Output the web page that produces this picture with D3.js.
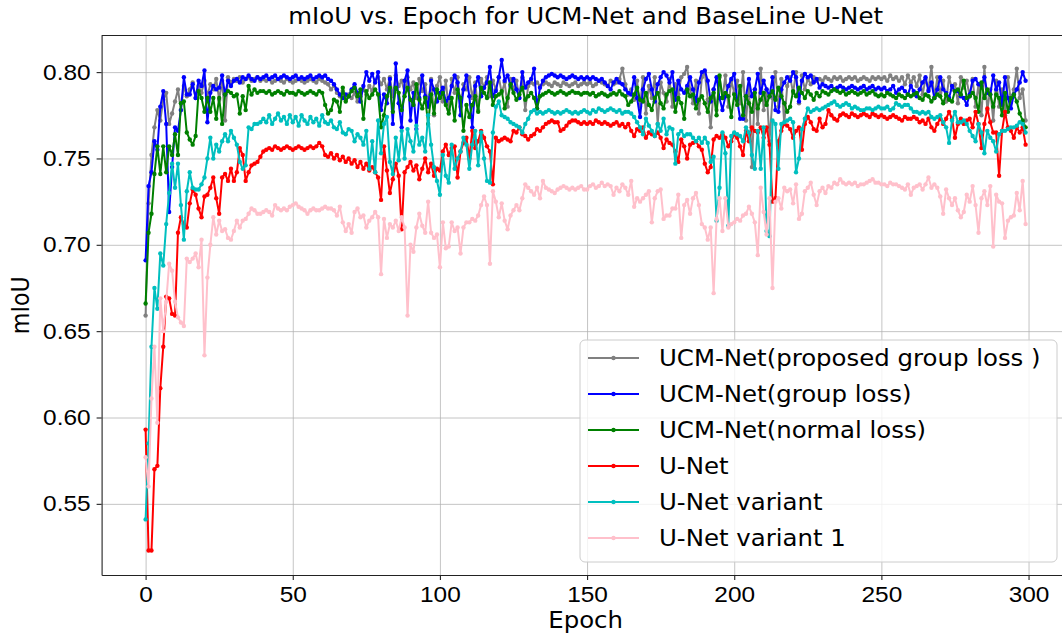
<!DOCTYPE html>
<html>
<head>
<meta charset="utf-8">
<script src="https://cdn.jsdelivr.net/npm/d3@7"></script>
<style>
  body { margin: 0; background: #fff; }
  svg { font-family: "DejaVu Sans", sans-serif; }
  .grid line { stroke: #b0b0b0; stroke-opacity: 0.75; stroke-width: 1; }
  .grid path { display: none; }
  .axis path, .axis line { stroke: #222; stroke-width: 1.1; }
  .axis text { font-size: 22.2px; fill: #000; }
  .line { fill: none; stroke-width: 2; stroke-linejoin: round; }
</style>
</head>
<body>
<div id="chart"></div>
<script>
// mIoU per epoch, stored as mIoU x 1000
const grayVals = [
  659, 724, 752, 768, 778, 772, 784, 788, 770, 776,
  783, 790, 778, 792, 786, 790, 794, 785, 792, 788,
  795, 786, 793, 790, 796, 784, 795, 772, 797, 794,
  796, 795, 797, 794, 796, 797, 795, 796, 797, 795,
  796, 795, 796, 794, 795, 796, 795, 794, 796, 795,
  794, 795, 796, 795, 794, 795, 796, 795, 794, 796,
  795, 794, 793, 790, 792, 788, 786, 789, 784, 787,
  785, 788, 783, 786, 790, 787, 792, 789, 795, 797,
  793, 796, 790, 797, 786, 798, 792, 795, 788, 797,
  790, 794, 785, 796, 789, 793, 780, 796, 775, 792,
  797, 783, 795, 778, 796, 788, 797, 780, 793, 790,
  797, 785, 794, 778, 796, 791, 797, 786, 795, 790,
  797, 788, 794, 780, 796, 790, 795, 785, 797, 778,
  792, 794, 793, 794, 792, 793, 794, 793, 792, 794,
  793, 792, 794, 793, 792, 793, 794, 792, 793, 794,
  793, 794, 792, 793, 795, 794, 793, 792, 795, 793,
  794, 796, 802, 793, 787, 790, 784, 795, 780, 797,
  776, 792, 785, 797, 770, 794, 788, 783, 796, 780,
  793, 787, 797, 799, 803, 790, 782, 795, 776, 797,
  800, 784, 768, 790, 778, 797, 785, 798, 780, 795,
  788, 795, 782, 800, 772, 792, 745, 790, 770, 802,
  778, 790, 760, 785, 800, 780, 796, 770, 792, 797,
  788, 800, 782, 798, 790, 796, 793, 797, 795, 796,
  795, 797, 796, 795, 797, 796, 797, 795, 796, 797,
  796, 797, 795, 796, 797, 796, 795, 797, 796, 797,
  796, 797, 795, 798, 796, 797, 795, 797, 793, 798,
  794, 797, 792, 798, 787, 796, 790, 803, 785, 797,
  788, 795, 783, 797, 790, 793, 782, 797, 791, 795,
  786, 796, 780, 793, 775, 803, 778, 790, 772, 795,
  780, 790, 775, 797, 783, 790, 802, 785, 790, 772
];
const blueVals = [
  691, 734, 742, 760, 755, 780, 789, 770, 719, 745,
  768, 766, 778, 797, 787, 787, 793, 785, 795, 792,
  801, 771, 788, 792, 790, 791, 798, 787, 795, 792,
  795, 796, 794, 797, 796, 798, 796, 795, 797, 796,
  797, 798, 796, 797, 798, 796, 797, 798, 797, 796,
  797, 798, 796, 797, 796, 797, 798, 796, 797, 798,
  797, 798, 796, 795, 793, 790, 787, 785, 787, 786,
  790, 793, 788, 783, 792, 800, 795, 799, 794, 800,
  778, 787, 782, 796, 770, 805, 782, 768, 795, 801,
  772, 788, 767, 785, 798, 786, 780, 795, 790, 783,
  788, 791, 783, 785, 792, 798, 794, 775, 790, 798,
  786, 768, 792, 797, 786, 791, 794, 803, 786, 789,
  797, 807, 795, 798, 792, 796, 790, 785, 800, 791,
  794, 796, 802, 779, 791, 795, 797, 798, 799, 798,
  797, 798, 797, 796, 797, 798, 797, 796, 797, 796,
  797, 796, 797, 796, 795, 796, 794, 792, 790, 794,
  796, 794, 793, 790, 788, 787, 797, 785, 774, 790,
  796, 799, 790, 783, 793, 797, 800, 798, 794, 800,
  784, 795, 790, 788, 792, 797, 790, 783, 794, 800,
  801, 795, 783, 790, 797, 785, 778, 786, 792, 796,
  799, 784, 773, 773, 786, 796, 786, 790, 799, 788,
  795, 790, 786, 797, 778, 777, 790, 794, 797, 795,
  800, 797, 783, 795, 799, 797, 798, 794, 796, 791,
  793, 792, 791, 792, 790, 791, 792, 791, 790, 791,
  792, 791, 790, 791, 792, 790, 791, 792, 790, 791,
  790, 791, 789, 790, 792, 788, 790, 791, 789, 787,
  792, 789, 786, 790, 794, 797, 789, 794, 785, 790,
  797, 790, 788, 785, 792, 789, 789, 786, 785, 781,
  787, 795, 796, 793, 792, 797, 788, 787, 798, 790,
  794, 781, 797, 785, 779, 787, 790, 794, 800, 795
];
const greenVals = [
  666, 707, 718, 741, 757, 741, 757, 742, 757, 752,
  764, 752, 782, 783, 765, 761, 758, 763, 789, 785,
  777, 785, 777, 785, 773, 785, 770, 787, 789, 788,
  786, 787, 776, 786, 778, 792, 787, 790, 788, 789,
  789, 788, 789, 787, 788, 789, 788, 787, 789, 788,
  788, 787, 789, 788, 787, 788, 789, 788, 787, 789,
  788, 781, 776, 778, 784, 783, 777, 791, 783, 786,
  789, 791, 786, 790, 773, 789, 785, 787, 790, 787,
  768, 775, 786, 791, 777, 791, 788, 778, 786, 791,
  784, 781, 793, 784, 779, 785, 770, 787, 776, 790,
  785, 788, 781, 776, 785, 772, 790, 785, 766, 781,
  774, 781, 786, 777, 791, 788, 785, 794, 781, 786,
  787, 789, 779, 785, 793, 788, 784, 787, 791, 784,
  786, 788, 785, 779, 786, 787, 788, 789, 788, 787,
  788, 789, 788, 787, 788, 789, 788, 788, 787, 788,
  788, 787, 788, 786, 787, 788, 787, 786, 787, 788,
  787, 789, 787, 786, 781, 783, 787, 791, 784, 783,
  788, 781, 778, 785, 788, 782, 779, 787, 789, 790,
  777, 785, 782, 773, 790, 786, 787, 779, 784, 786,
  782, 777, 785, 788, 775, 798, 785, 788, 786, 774,
  787, 781, 792, 775, 786, 782, 777, 788, 779, 784,
  788, 781, 786, 789, 784, 791, 786, 782, 777, 780,
  789, 786, 791, 788, 785, 789, 787, 784, 788, 786,
  789, 788, 787, 789, 790, 789, 788, 789, 787, 788,
  789, 788, 787, 788, 789, 787, 788, 789, 787, 786,
  787, 786, 788, 787, 786, 785, 787, 786, 785, 787,
  786, 787, 788, 785, 784, 787, 786, 783, 785, 787,
  786, 782, 787, 784, 783, 789, 790, 787, 795, 785,
  786, 788, 785, 777, 794, 785, 790, 787, 780, 787,
  785, 775, 788, 777, 785, 787, 783, 776, 772, 768
];
const redVals = [
  593, 523, 523, 570, 572, 617, 641, 670, 669, 660,
  659, 707, 716, 712, 710, 724, 732, 729, 721, 716,
  728, 729, 733, 739, 727, 718, 739, 741, 737, 744,
  737, 742, 756, 752, 737, 742, 746, 747, 748, 751,
  754, 755, 756, 755, 757, 756, 755, 756, 757, 756,
  755, 756, 757, 756, 755, 756, 757, 756, 757, 759,
  757, 752, 751, 753, 750, 752, 749, 751, 748, 750,
  747, 749, 745, 748, 744, 747, 743, 745, 742, 739,
  726, 757, 743, 730, 738, 747, 740, 709, 742, 745,
  748, 743, 746, 738, 744, 750, 742, 747, 740, 744,
  743, 754, 758, 752, 756, 757, 739, 754, 759, 762,
  750, 766, 756, 760, 766, 762, 757, 754, 735, 762,
  760, 761, 762, 761, 760, 766, 765, 768, 764, 763,
  761, 763, 764, 767, 766, 768, 770, 771, 772, 771,
  771, 766, 767, 769, 771, 772, 772, 771, 770, 771,
  770, 771, 770, 772, 771, 770, 771, 770, 769, 770,
  771, 769, 770, 768, 770, 766, 763, 767, 766, 768,
  762, 765, 764, 763, 765, 762, 756, 761, 759, 758,
  754, 748, 761, 757, 750, 758, 759, 760, 757, 755,
  747, 742, 745, 761, 763, 762, 764, 762, 757, 760,
  764, 762, 757, 752, 766, 760, 768, 766, 765, 768,
  762, 768, 758, 725, 727, 760, 766, 770, 769, 767,
  762, 766, 768, 755, 770, 774, 771, 767, 766, 773,
  768, 770, 778, 775, 773, 772, 775, 776, 775, 774,
  776, 775, 774, 775, 776, 775, 774, 776, 775, 774,
  775, 774, 773, 774, 775, 774, 773, 772, 774, 773,
  773, 774, 773, 771, 772, 770, 773, 768, 766, 770,
  773, 770, 773, 777, 773, 762, 770, 773, 770, 772,
  773, 768, 777, 770, 756, 770, 779, 771, 765, 765,
  740, 766, 777, 768, 766, 762, 768, 765, 768, 758
];
const cyanVals = [
  541, 585, 641, 675, 663, 695, 688, 712, 730, 747,
  733, 747, 723, 703, 731, 742, 733, 732, 732, 735,
  739, 750, 762, 750, 758, 754, 760, 764, 760, 766,
  762, 758, 748, 744, 746, 768, 767, 770, 770, 771,
  773, 771, 775, 770, 773, 776, 772, 774, 770, 775,
  771, 774, 769, 775, 772, 770, 774, 771, 773, 769,
  775, 771, 770, 772, 768, 767, 771, 765, 764, 767,
  766, 760, 764, 762, 758, 766, 744, 760, 742, 772,
  753, 770, 774, 748, 741, 762, 749, 766, 750, 767,
  760, 754, 769, 758, 762, 754, 775, 758, 745, 737,
  729, 752, 740, 736, 758, 744, 750, 754, 762, 758,
  744, 758, 766, 746, 765, 750, 737, 736, 765, 780,
  783, 775, 774, 773, 771, 770, 769, 768, 765, 770,
  773, 777, 778, 776, 777, 776, 777, 778, 777, 776,
  777, 776, 777, 778, 777, 776, 777, 776, 777, 778,
  777, 776, 778, 777, 779, 778, 777, 778, 779, 778,
  777, 778, 776, 777, 777, 776, 774, 771, 768, 764,
  773, 769, 766, 763, 770, 766, 773, 764, 768, 767,
  747, 764, 766, 763, 764, 764, 762, 760, 762, 759,
  762, 759, 748, 751, 714, 733, 765, 753, 711, 763,
  765, 764, 763, 760, 768, 765, 752, 744, 766, 744,
  768, 708, 705, 772, 770, 744, 770, 771, 772, 773,
  771, 742, 750, 767, 773, 779, 777, 778, 779, 778,
  779, 780, 781, 782, 783, 781, 780, 781, 782, 781,
  779, 780, 779, 778, 778, 779, 779, 778, 779, 780,
  779, 779, 780, 778, 779, 782, 781, 780, 781, 781,
  779, 777, 777, 776, 777, 776, 777, 774, 773, 774,
  775, 771, 768, 759, 772, 777, 771, 771, 772, 770,
  766, 763, 760, 770, 765, 753, 766, 762, 760, 754,
  764, 766, 766, 767, 768, 768, 769, 771, 770, 765
];
const pinkVals = [
  577, 560, 611, 641, 597, 669, 650, 667, 689, 685,
  667, 658, 655, 653, 692, 690, 692, 695, 687, 703,
  636, 681, 700, 716, 706, 714, 708, 709, 704, 703,
  708, 714, 710, 714, 715, 718, 721, 720, 718, 718,
  719, 720, 719, 717, 723, 721, 720, 721, 720, 722,
  723, 724, 722, 721, 720, 718, 720, 721, 720, 720,
  721, 722, 721, 721, 720, 717, 722, 713, 708, 712,
  707, 719, 721, 716, 717, 710, 714, 716, 719, 716,
  683, 715, 704, 712, 710, 714, 708, 716, 710, 659,
  700, 696, 710, 718, 711, 707, 725, 707, 704, 706,
  687, 713, 698, 699, 713, 708, 710, 695, 710, 713,
  713, 715, 714, 717, 723, 728, 723, 689, 731, 725,
  716, 724, 714, 709, 717, 720, 723, 720, 727, 735,
  733, 731, 729, 733, 727, 737, 733, 732, 731, 730,
  732, 733, 734, 733, 732, 733, 732, 733, 734, 732,
  732, 734, 735, 733, 734, 736, 734, 735, 734, 729,
  733, 731, 735, 733, 729, 737, 722, 727, 725, 727,
  729, 731, 713, 727, 731, 732, 715, 717, 717, 721,
  721, 729, 704, 723, 726, 718, 727, 730, 723, 712,
  710, 703, 710, 672, 715, 727, 708, 727, 710, 712,
  713, 715, 714, 717, 718, 722, 718, 713, 694, 733,
  719, 706, 727, 675, 725, 727, 721, 733, 731, 732,
  724, 735, 715, 718, 731, 733, 736, 729, 723, 731,
  733, 730, 734, 733, 736, 735, 738, 736, 735, 736,
  735, 736, 734, 735, 735, 736, 737, 738, 736, 736,
  735, 735, 734, 736, 735, 735, 734, 733, 732, 735,
  729, 733, 734, 735, 732, 735, 739, 733, 735, 733,
  728, 718, 732, 727, 723, 727, 720, 716, 719, 729,
  725, 734, 723, 707, 727, 731, 723, 734, 699, 729,
  725, 724, 704, 714, 716, 717, 730, 720, 737, 712
];

const seriesNames = [
  'UCM-Net(proposed group loss )',
  'UCM-Net(group loss)',
  'UCM-Net(normal loss)',
  'U-Net',
  'U-Net variant',
  'U-Net variant 1'
];
const seriesColors = ['#808080', '#0000ff', '#008000', '#ff0000', '#00bfbf', '#ffc0cb'];
const xTicks = [0, 50, 100, 150, 200, 250, 300];
const yTicks = [0.55, 0.60, 0.65, 0.70, 0.75, 0.80];

// the reference picture is a little wider than tall: glyphs are stretched sideways
const STRETCH = 1.1;
const FONT = '22.2px';

function addAxes(svg, xScale, yScale, left, top, width, height) {
  // Grid first, under everything
  svg.append('g')
    .attr('class', 'grid')
    .attr('transform', `translate(0,${top + height})`)
    .call(d3.axisBottom(xScale).tickValues(xTicks).tickSize(-height).tickFormat(''));
  svg.append('g')
    .attr('class', 'grid')
    .attr('transform', `translate(${left},0)`)
    .call(d3.axisLeft(yScale).tickValues(yTicks).tickSize(-width).tickFormat(''));
  return () => {
    svg.append('g')
      .attr('class', 'x axis')
      .attr('transform', `translate(0,${top + height})`)
      .call(d3.axisBottom(xScale).tickValues(xTicks).tickSize(5).tickSizeOuter(0).tickPadding(6))
      .call(g => g.selectAll('text')
            .attr('dy', '0.70em')
            .attr('transform', `scale(${STRETCH},1)`));
    svg.append('g')
      .attr('class', 'y axis')
      .attr('transform', `translate(${left},0)`)
      .call(d3.axisLeft(yScale).tickValues(yTicks).tickSize(5).tickSizeOuter(0).tickPadding(5)
            .tickFormat(d3.format('.2f')))
      .call(g => g.selectAll('text').attr('transform', `scale(${STRETCH},1)`));
    // matplotlib box: top and right spines
    svg.append('line')
      .attr('x1', left).attr('x2', left + width)
      .attr('y1', top).attr('y2', top)
      .style('stroke', '#222').style('stroke-width', 1.1);
    svg.append('line')
      .attr('x1', left + width).attr('x2', left + width)
      .attr('y1', top).attr('y2', top + height)
      .style('stroke', '#222').style('stroke-width', 1.1);
  };
}

function addData(svg, data, xScale, yScale, left, top, width, height) {
  svg.append('defs').append('clipPath')
    .attr('id', 'clip')
    .append('rect')
    .attr('x', left).attr('y', top)
    .attr('width', width).attr('height', height);
  const line = d3.line()
    .x((_, i) => xScale(i))
    .y(d => yScale(d));
  const g = svg.append('g').attr('clip-path', 'url(#clip)');
  data.forEach((s, k) => {
    g.append('path')
      .attr('class', 'line')
      .style('stroke', seriesColors[k])
      .attr('d', line(s));
    g.append('g')
      .selectAll('circle')
      .data(s)
      .enter().append('circle')
      .attr('cx', (_, i) => xScale(i))
      .attr('cy', d => yScale(d))
      .attr('r', 2.2)
      .style('fill', seriesColors[k]);
  });
}

function addText(svg, x, y, str, anchor) {
  return svg.append('text')
    .attr('transform', `translate(${x},${y}) scale(${STRETCH},1)`)
    .attr('text-anchor', anchor || 'middle')
    .style('font-size', FONT)
    .text(str);
}

function addLegend(svg) {
  const x0 = 580, y0 = 340, w = 477, h = 222, rowH = 36;
  svg.append('rect')
    .attr('x', x0).attr('y', y0)
    .attr('width', w).attr('height', h)
    .attr('rx', 5)
    .style('fill', '#fff').style('fill-opacity', 0.8)
    .style('stroke', '#cccccc').style('stroke-width', 1);
  const item = svg.append('g')
    .selectAll('g')
    .data(seriesNames)
    .enter().append('g')
    .attr('transform', (_, i) => `translate(${x0 + 8},${y0 + 18 + rowH * i})`);
  item.append('line')
    .attr('x2', 51)
    .style('stroke', (_, i) => seriesColors[i])
    .style('stroke-width', 2);
  item.append('circle')
    .attr('cx', 25.5).attr('r', 2.2)
    .style('fill', (_, i) => seriesColors[i]);
  item.append('text')
    .attr('transform', `translate(71,0) scale(${STRETCH},1)`)
    .attr('dy', '0.36em')
    .style('font-size', FONT)
    .text(d => d);
}

function plotData() {
  const W = 1062, H = 639;
  const left = 101.6, top = 35.5, bottom = 575;
  const data = [grayVals, blueVals, greenVals, redVals, cyanVals, pinkVals]
        .map(s => s.map(v => v / 1000));
  const n = grayVals.length;
  const minY = d3.min(data, s => d3.min(s));
  const maxY = d3.max(data, s => d3.max(s));
  const padX = 0.05 * (n - 1), padY = 0.05 * (maxY - minY);
  const xDomain = [-padX, n - 1 + padX];
  // axes box runs past the right edge of the picture, as in the reference
  const width = 968, height = bottom - top;
  const xScale = d3.scaleLinear().domain(xDomain).range([left, left + width]);
  const yScale = d3.scaleLinear().domain([minY - padY, maxY + padY]).range([bottom, top]);

  const svg = d3.select('#chart').append('svg')
        .attr('width', W).attr('height', H);
  svg.append('rect').attr('width', W).attr('height', H).style('fill', '#fff');

  const drawAxes = addAxes(svg, xScale, yScale, left, top, width, height);
  addData(svg, data, xScale, yScale, left, top, width, height);
  drawAxes();
  addLegend(svg);

  addText(svg, left + width / 2, 24, 'mIoU vs. Epoch for UCM-Net and BaseLine U-Net');
  addText(svg, left + width / 2, 628, 'Epoch');
  svg.append('text')
    .attr('transform', `translate(29,${(top + bottom) / 2}) rotate(-90) scale(1,${STRETCH})`)
    .attr('text-anchor', 'middle')
    .style('font-size', FONT)
    .text('mIoU');
}

plotData();
</script>
</body>
</html>
